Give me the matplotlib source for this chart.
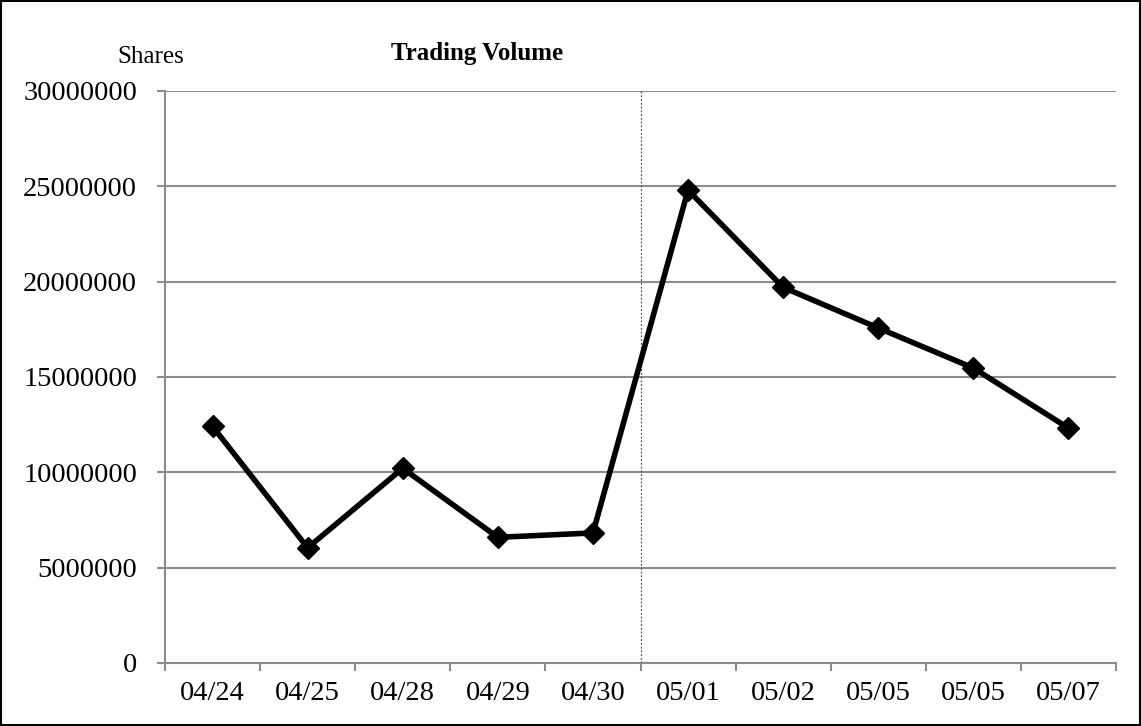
import matplotlib
matplotlib.use('Agg')
import matplotlib.pyplot as plt
from matplotlib.patches import Rectangle

dates = ['04/24', '04/25', '04/28', '04/29', '04/30',
         '05/01', '05/02', '05/05', '05/05', '05/07']
volume = [12410000, 6040000, 10210000, 6590000, 6820000,
          24800000, 19700000, 17570000, 15470000, 12320000]
yticks = [0, 5000000, 10000000, 15000000, 20000000, 25000000, 30000000]
split_at = 4.5  # between 04/30 and 05/01

serif = 'Liberation Serif'
grey = '#8c8c8c'

fig = plt.figure(figsize=(11.41, 7.26), dpi=100)
ax = fig.add_axes([0.1446, 0.0868, 0.8335, 0.7879])

x = list(range(len(dates)))
ax.plot(x, volume, color='black', lw=4, marker='D', ms=11,
        mfc='black', mec='black', zorder=4)

ax.axvline(split_at, color='#555555', lw=0.9, ls=(0, (1.5, 1.5)), zorder=3)

ax.set_ylim(0, 30000000)
ax.set_yticks(yticks)
ax.set_yticklabels([str(v) for v in yticks], fontfamily=serif, fontsize=20.5)
ax.yaxis.grid(True, color=grey, lw=1.5)
ax.set_axisbelow(True)

ax.set_xlim(-0.5, len(dates) - 0.5)
ax.set_xticks([i - 0.5 for i in range(len(dates) + 1)])
ax.set_xticklabels([])
ax.set_xticks(x, minor=True)
ax.set_xticklabels(dates, minor=True, fontfamily=serif, fontsize=20.5)
ax.tick_params(axis='x', which='major', length=6, width=1.5, color=grey)
ax.tick_params(axis='x', which='minor', length=0, pad=13)
ax.tick_params(axis='y', length=6, width=1.5, color=grey, pad=14)

for s in ['top', 'right']:
    ax.spines[s].set_visible(False)
for s in ['left', 'bottom']:
    ax.spines[s].set_color(grey)
    ax.spines[s].set_linewidth(1.5)

fig.text(0.418, 0.926, 'Trading Volume', ha='center', va='center',
         fontfamily=serif, fontsize=18, fontweight='bold')
fig.text(0.132, 0.922, 'Shares', ha='center', va='center',
         fontfamily=serif, fontsize=18)

fig.patches.append(Rectangle((0.001, 0.001), 0.998, 0.997, transform=fig.transFigure,
                             fill=False, edgecolor='black', lw=1.5))

fig.savefig('out.png', dpi=100)
